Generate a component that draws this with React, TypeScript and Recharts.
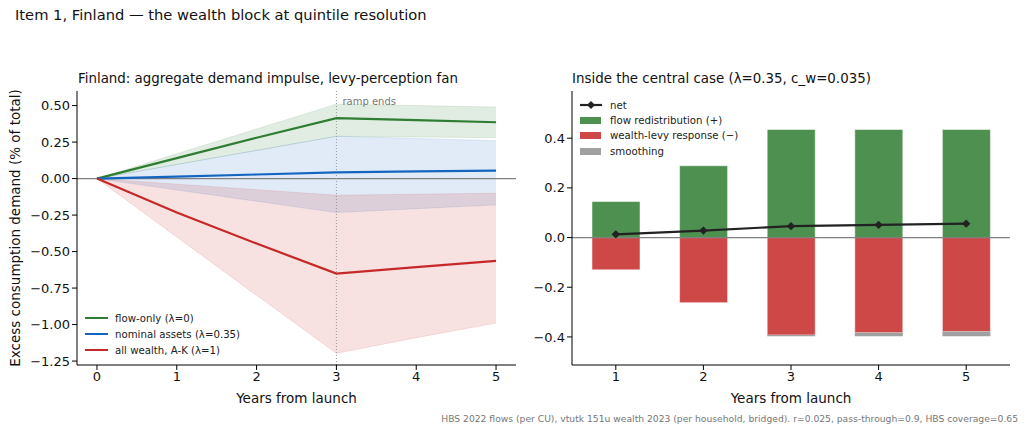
import React from 'react';
import { ComposedChart, Area, Line, Bar, XAxis, YAxis, ReferenceLine } from 'recharts';

// ---------- left panel data ----------
const years = [0, 1, 2, 3, 4, 5];
const flowOnly = [0, 0.14, 0.28, 0.414, 0.4, 0.386];
const flowLo = [0, 0.097, 0.193, 0.29, 0.285, 0.28];
const flowHi = [0, 0.17, 0.34, 0.51, 0.5, 0.49];
const nominal = [0, 0.014, 0.028, 0.042, 0.05, 0.055];
const nominalLo = [0, -0.078, -0.155, -0.233, -0.206, -0.18];
const nominalHi = [0, 0.097, 0.193, 0.29, 0.275, 0.26];
const allWealth = [0, -0.233, -0.445, -0.651, -0.607, -0.564];
const allWealthLo = [0, -0.4, -0.8, -1.197, -1.09, -0.99];
const allWealthHi = [0, -0.038, -0.076, -0.114, -0.107, -0.1];
const leftYTicks = [0.5, 0.25, 0, -0.25, -0.5, -0.75, -1, -1.25];
const leftXTicks = [0, 1, 2, 3, 4, 5];
const rampEndYear = 3;

// ---------- right panel data ----------
const barYears = [1, 2, 3, 4, 5];
const flowRedistribution = [0.145, 0.289, 0.435, 0.435, 0.435];
const wealthLevy = [-0.13, -0.262, -0.392, -0.383, -0.378];
const smoothing = [0, 0, -0.005, -0.014, -0.019];
const net = [0.013, 0.028, 0.046, 0.051, 0.056];
const rightYTicks = [0.4, 0.2, 0, -0.2, -0.4];

const GREEN = '#2e7d32';
const BLUE = '#1565c0';
const RED = '#c62828';
const BAR_GREEN = '#4d9050';
const BAR_RED = '#ce4848';
const BAR_GRAY = '#a0a0a0';
const FONT = '"DejaVu Sans", sans-serif';

const leftData = years.map((y, i) => ({
  year: y,
  flow: flowOnly[i],
  nominal: nominal[i],
  all: allWealth[i],
  flowBand: [flowLo[i], flowHi[i]],
  nominalBand: [nominalLo[i], nominalHi[i]],
  allBand: [allWealthLo[i], allWealthHi[i]],
}));

const rightData = barYears.map((y, i) => ({
  year: String(y),
  flow: flowRedistribution[i],
  levy: wealthLevy[i],
  smooth: smoothing[i],
  net: net[i],
}));

const fmt = (d: number) => (v: number) => {
  const s = Math.abs(v).toFixed(d);
  return v < 0 ? '\u2212' + s : s;
};

const tickStyle = { fontSize: 13, fill: '#111', fontFamily: FONT };

const Diamond = (props: any) => {
  const { cx, cy } = props;
  if (cx == null || cy == null) return null;
  const r = 4.2;
  return (
    <path
      key={`d-${cx}`}
      d={`M${cx},${cy - r}L${cx + r},${cy}L${cx},${cy + r}L${cx - r},${cy}Z`}
      fill="#222"
    />
  );
};

const leftLegend = [
  { label: 'flow-only (\u03bb=0)', color: GREEN },
  { label: 'nominal assets (\u03bb=0.35)', color: BLUE },
  { label: 'all wealth, A-K (\u03bb=1)', color: RED },
];

const rightLegend = [
  { label: 'net', color: '#222', kind: 'marker' },
  { label: 'flow redistribution (+)', color: BAR_GREEN, kind: 'patch' },
  { label: 'wealth-levy response (\u2212)', color: BAR_RED, kind: 'patch' },
  { label: 'smoothing', color: BAR_GRAY, kind: 'patch' },
];

export default function App() {
  return (
    <div
      style={{
        position: 'absolute',
        left: 0,
        top: 0,
        width: 1024,
        height: 433,
        background: '#fff',
        fontFamily: FONT,
        overflow: 'hidden',
      }}
    >
      <div style={{ position: 'absolute', left: 15, top: 6, fontSize: 14.7, color: '#111', whiteSpace: 'nowrap' }}>
        Item 1, Finland — the wealth block at quintile resolution
      </div>
      <div style={{ position: 'absolute', left: 78, top: 71, fontSize: 13.4, color: '#111', whiteSpace: 'nowrap' }}>
        Finland: aggregate demand impulse, levy-perception fan
      </div>
      <div style={{ position: 'absolute', left: 572, top: 71, fontSize: 13.4, color: '#111', whiteSpace: 'nowrap' }}>
        Inside the central case (λ=0.35, c_w=0.035)
      </div>

      {/* left chart */}
      <div style={{ position: 'absolute', left: 0, top: 0 }}>
        <ComposedChart width={530} height={433} data={leftData} margin={{ top: 91, right: 14, bottom: 28, left: 27 }}>
          <XAxis
            dataKey="year"
            type="number"
            domain={[-0.25, 5.25]}
            ticks={leftXTicks}
            allowDataOverflow
            tickSize={5}
            height={40}
            stroke="#000"
            tick={tickStyle}
            label={{ value: 'Years from launch', position: 'insideBottom', offset: 2, style: { fontSize: 13.5, fill: '#111', fontFamily: FONT } }}
          />
          <YAxis
            type="number"
            domain={[-1.277, 0.6]}
            ticks={leftYTicks}
            allowDataOverflow
            tickFormatter={fmt(2)}
            tickSize={5}
            width={50}
            stroke="#000"
            tick={tickStyle}
          />
          <Area type="linear" dataKey="flowBand" fill={GREEN} fillOpacity={0.14} stroke={GREEN} strokeOpacity={0.12} isAnimationActive={false} />
          <Area type="linear" dataKey="nominalBand" fill={BLUE} fillOpacity={0.13} stroke={BLUE} strokeOpacity={0.12} isAnimationActive={false} />
          <Area type="linear" dataKey="allBand" fill={RED} fillOpacity={0.14} stroke={RED} strokeOpacity={0.12} isAnimationActive={false} />
          <ReferenceLine y={0} stroke="#808080" strokeWidth={1.2} />
          <ReferenceLine
            x={rampEndYear}
            stroke="#999"
            strokeWidth={1}
            strokeDasharray="1 2"
            label={(p: any) => (
              <text x={p.viewBox.x + 6} y={p.viewBox.y + 14} fontSize={10} fill="#777" fontFamily={FONT}>
                ramp ends
              </text>
            )}
          />
          <Line type="linear" dataKey="flow" stroke={GREEN} strokeWidth={2.2} dot={false} isAnimationActive={false} />
          <Line type="linear" dataKey="nominal" stroke={BLUE} strokeWidth={2.2} dot={false} isAnimationActive={false} />
          <Line type="linear" dataKey="all" stroke={RED} strokeWidth={2.2} dot={false} isAnimationActive={false} />
        </ComposedChart>
      </div>

      {/* y label left */}
      <div
        style={{
          position: 'absolute',
          left: 15,
          top: 228,
          transform: 'translate(-50%, -50%) rotate(-90deg)',
          fontSize: 13.5,
          color: '#111',
          whiteSpace: 'nowrap',
        }}
      >
        Excess consumption demand (% of total)
      </div>

      {/* left legend */}
      {leftLegend.map((e, i) => (
        <div key={e.label} style={{ position: 'absolute', left: 85, top: 318 + i * 16 - 8, height: 16, display: 'flex', alignItems: 'center', whiteSpace: 'nowrap' }}>
          <div style={{ width: 23, height: 2.2, background: e.color, marginRight: 7 }} />
          <span style={{ fontSize: 10.2, color: '#222' }}>{e.label}</span>
        </div>
      ))}

      {/* right chart */}
      <div style={{ position: 'absolute', left: 530, top: 0 }}>
        <ComposedChart
          width={494}
          height={433}
          data={rightData}
          stackOffset="sign"
          margin={{ top: 91, right: 14, bottom: 28, left: 2 }}
        >
          <XAxis
            dataKey="year"
            type="category"
            tickSize={5}
            height={40}
            stroke="#000"
            tick={tickStyle}
            label={{ value: 'Years from launch', position: 'insideBottom', offset: 2, style: { fontSize: 13.5, fill: '#111', fontFamily: FONT } }}
          />
          <YAxis
            type="number"
            domain={[-0.513, 0.59]}
            ticks={rightYTicks}
            allowDataOverflow
            tickFormatter={fmt(1)}
            tickSize={5}
            width={40}
            stroke="#000"
            tick={tickStyle}
          />
          <Bar dataKey="flow" stackId="s" fill={BAR_GREEN} barSize={48} stroke="#fff" strokeWidth={0.5} isAnimationActive={false} />
          <Bar dataKey="levy" stackId="s" fill={BAR_RED} barSize={48} stroke="#fff" strokeWidth={0.5} isAnimationActive={false} />
          <Bar dataKey="smooth" stackId="s" fill={BAR_GRAY} barSize={48} isAnimationActive={false} />
          <ReferenceLine y={0} stroke="#808080" strokeWidth={1.2} />
          <Line type="linear" dataKey="net" stroke="#222" strokeWidth={2.2} dot={<Diamond />} isAnimationActive={false} />
        </ComposedChart>
      </div>

      {/* right legend */}
      {rightLegend.map((e, i) => (
        <div key={e.label} style={{ position: 'absolute', left: 580, top: 105 + i * 15.4 - 8, height: 16, display: 'flex', alignItems: 'center', whiteSpace: 'nowrap' }}>
          {e.kind === 'marker' ? (
            <svg width={22} height={10} style={{ marginRight: 8 }}>
              <line x1={0} y1={5} x2={22} y2={5} stroke={e.color} strokeWidth={2.2} />
              <path d="M11,1L15,5L11,9L7,5Z" fill={e.color} />
            </svg>
          ) : (
            <div style={{ width: 21, height: 7, background: e.color, marginRight: 9 }} />
          )}
          <span style={{ fontSize: 10.2, color: '#222' }}>{e.label}</span>
        </div>
      ))}

      <div style={{ position: 'absolute', right: 6, top: 413, fontSize: 9.2, color: '#777', whiteSpace: 'nowrap' }}>
        HBS 2022 flows (per CU), vtutk 151u wealth 2023 (per household, bridged). r=0.025, pass-through=0.9, HBS coverage=0.65
      </div>
    </div>
  );
}
